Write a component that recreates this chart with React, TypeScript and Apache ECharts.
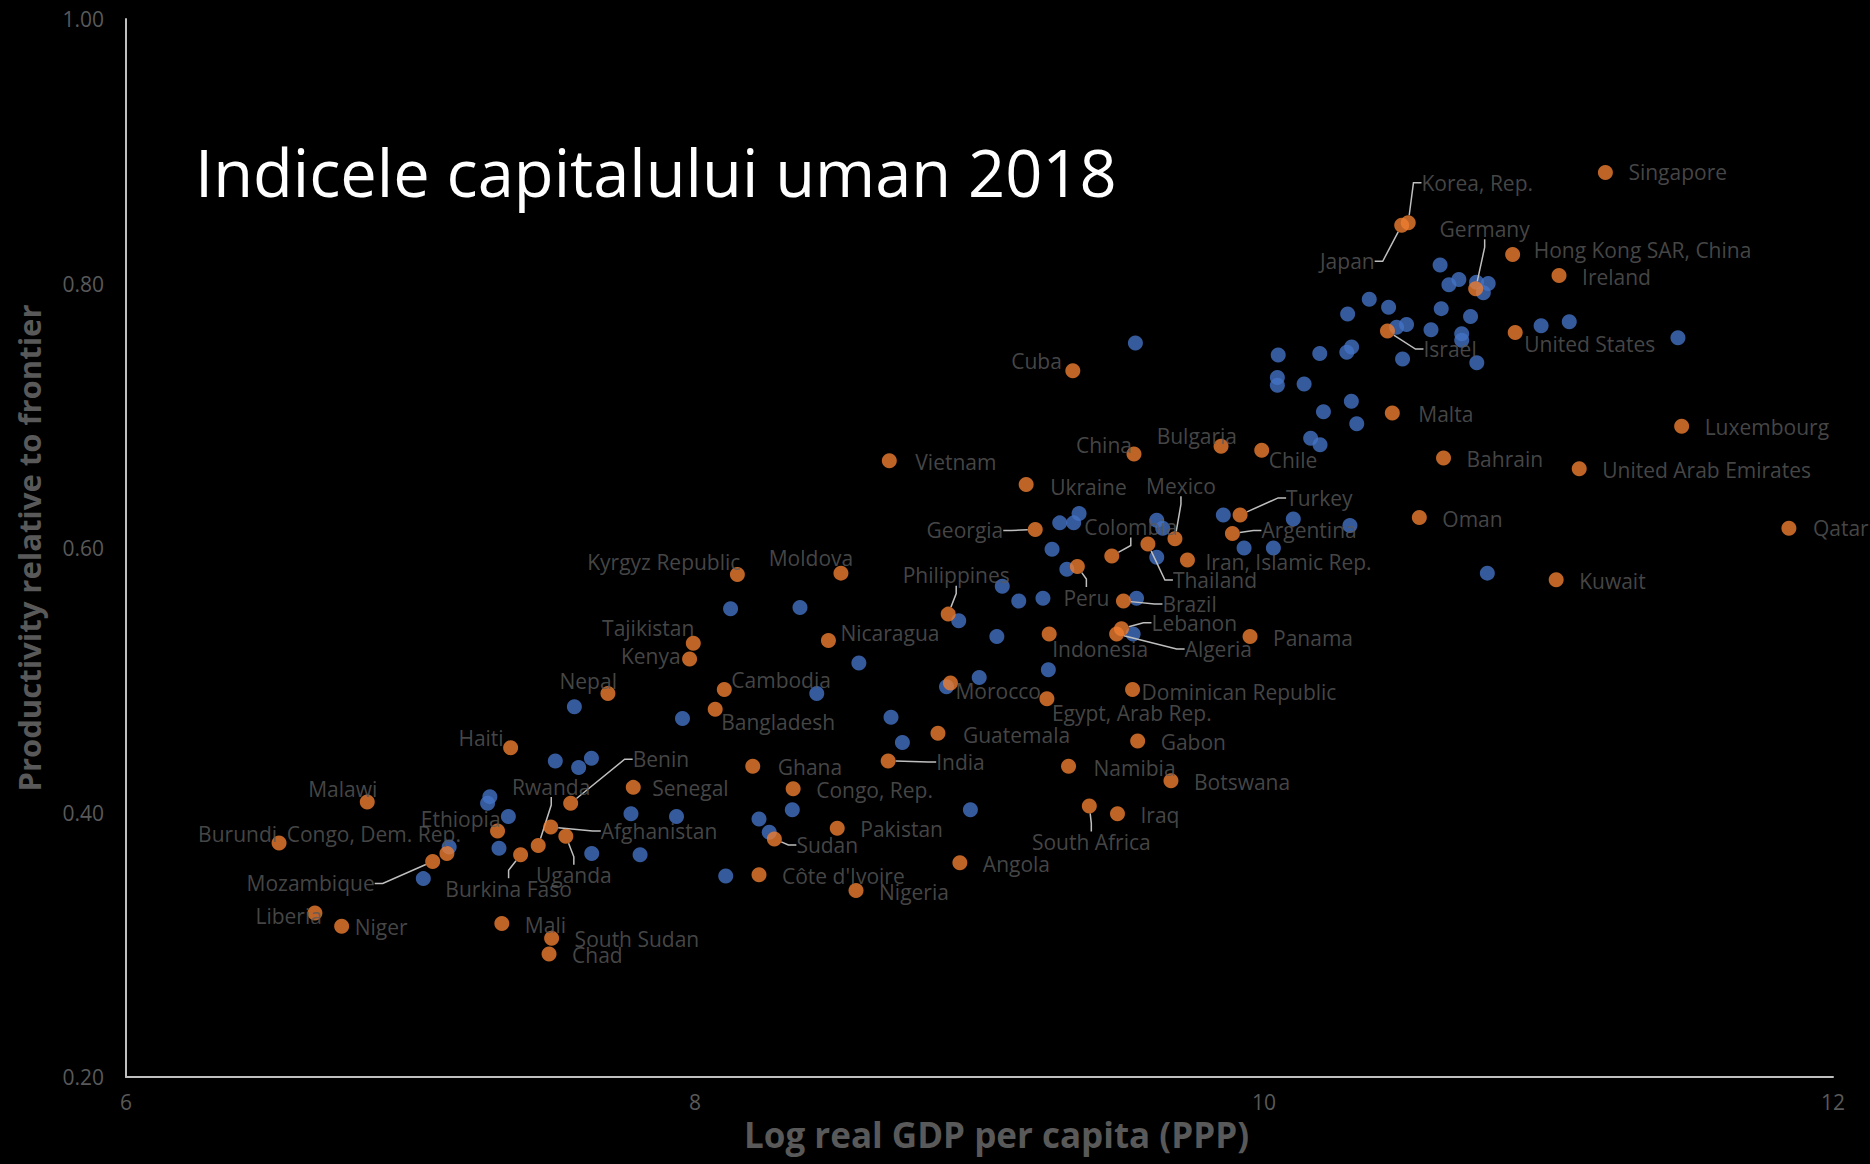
import React, { useEffect, useRef } from 'react';
import * as echarts from 'echarts';

const titleText = 'Indicele capitalului uman 2018';
const xAxisName = 'Log real GDP per capita (PPP)';
const yAxisName = 'Productivity relative to frontier';

const xTicks = [6, 8, 10, 12];
const yTicks = [0.2, 0.4, 0.6, 0.8, 1.0];

const labeledNames = [
  'Singapore', 'Korea, Rep.', 'Japan', 'Hong Kong SAR, China', 'Ireland', 'Germany', 'Israel',
  'United States', 'Malta', 'Luxembourg', 'Bahrain', 'United Arab Emirates', 'Oman', 'Qatar',
  'Kuwait', 'Cuba', 'China', 'Bulgaria', 'Chile', 'Vietnam', 'Ukraine', 'Georgia', 'Colombia',
  'Thailand', 'Mexico', 'Turkey', 'Argentina', 'Iran, Islamic Rep.', 'Peru', 'Moldova',
  'Kyrgyz Republic', 'Philippines', 'Brazil', 'Nicaragua', 'Indonesia', 'Lebanon', 'Algeria',
  'Panama', 'Tajikistan', 'Kenya', 'Morocco', 'Dominican Republic', 'Egypt, Arab Rep.', 'Nepal',
  'Cambodia', 'Bangladesh', 'Guatemala', 'Gabon', 'Haiti', 'India', 'Ghana', 'Namibia',
  'Botswana', 'Senegal', 'Congo, Rep.', 'Malawi', 'Benin', 'South Africa', 'Iraq', 'Afghanistan',
  'Pakistan', 'Ethiopia', 'Uganda', 'Sudan', 'Burundi', 'Rwanda', 'Congo, Dem. Rep.',
  'Burkina Faso', 'Mozambique', 'Angola', "Côte d'Ivoire", 'Nigeria', 'Liberia', 'Mali', 'Niger',
  'South Sudan', 'Chad',
];
const labeledX = [
  11.2, 10.507, 10.484, 10.874, 11.037, 10.744, 10.434,
  10.883, 10.451, 11.468, 10.631, 11.108, 10.546, 11.845,
  11.027, 9.328, 9.543, 9.849, 9.992, 8.683, 9.164, 9.196, 9.465,
  9.592, 9.687, 9.916, 9.889, 9.731, 9.344, 8.513,
  8.149, 8.89, 9.506, 8.469, 9.245, 9.499, 9.482,
  9.951, 7.994, 7.981, 8.898, 9.538, 9.237, 7.694,
  8.103, 8.071, 8.854, 9.556, 7.352, 8.679, 8.203, 9.313,
  9.673, 7.783, 8.345, 6.848, 7.563, 9.386, 9.485, 7.493,
  8.5, 7.306, 7.546, 8.279, 6.538, 7.449, 7.128,
  7.387, 7.078, 8.931, 8.225, 8.566, 6.664, 7.321, 6.758,
  7.496, 7.487,
];
const labeledY = [
  0.884, 0.846, 0.844, 0.822, 0.806, 0.796, 0.764,
  0.763, 0.702, 0.692, 0.668, 0.66, 0.623, 0.615,
  0.576, 0.734, 0.671, 0.677, 0.674, 0.666, 0.648, 0.614, 0.594,
  0.603, 0.607, 0.625, 0.611, 0.591, 0.586, 0.581,
  0.58, 0.55, 0.56, 0.53, 0.535, 0.539, 0.535,
  0.533, 0.528, 0.516, 0.498, 0.493, 0.486, 0.49,
  0.493, 0.478, 0.46, 0.454, 0.449, 0.439, 0.435, 0.435,
  0.424, 0.419, 0.418, 0.408, 0.407, 0.405, 0.399, 0.389,
  0.388, 0.386, 0.382, 0.38, 0.377, 0.375, 0.369,
  0.368, 0.363, 0.362, 0.353, 0.341, 0.324, 0.316, 0.314,
  0.305, 0.293,
];

const otherX = [
  10.619, 10.685, 10.65, 10.747, 10.788, 10.771, 10.37, 10.438, 10.294, 10.623, 10.726, 10.974,
  11.073, 11.455, 10.466, 10.501, 10.587, 10.695, 10.695, 10.196, 10.308, 10.291, 10.487, 10.748,
  10.141, 10.307, 10.209, 10.326, 10.164, 10.197, 10.302, 10.785,
  9.548, 10.05, 10.047, 10.047, 9.282, 9.331, 9.35, 9.255, 9.307, 9.623, 9.644, 9.623, 9.857,
  9.93, 10.033, 10.103,
  8.369, 8.927, 9.08, 9.138, 9.223, 9.552, 9.061, 9.54, 8.576, 9.242, 8.999, 8.884, 8.428,
  8.689, 8.729,
  8.125, 7.576, 7.956, 7.509, 7.636, 7.591,
  7.279, 7.271, 7.344, 7.311, 7.136, 7.045, 7.637, 7.807, 7.775, 7.935, 8.108, 8.225,
  8.342, 8.261, 8.968,
];
const otherY = [
  0.814, 0.803, 0.799, 0.801, 0.8, 0.793, 0.788, 0.782, 0.777, 0.781, 0.775, 0.768,
  0.771, 0.759, 0.767, 0.769, 0.765, 0.762, 0.757, 0.747, 0.752, 0.748, 0.743, 0.74,
  0.724, 0.711, 0.703, 0.694, 0.683, 0.678, 0.617, 0.581,
  0.755, 0.746, 0.729, 0.723, 0.619, 0.619, 0.626, 0.599, 0.584, 0.621, 0.615, 0.593, 0.625,
  0.6, 0.6, 0.622,
  0.555, 0.545, 0.571, 0.56, 0.562, 0.562, 0.533, 0.535, 0.513, 0.508, 0.502, 0.495, 0.49,
  0.472, 0.453,
  0.554, 0.48, 0.471, 0.439, 0.441, 0.434,
  0.412, 0.407, 0.397, 0.373, 0.374, 0.35, 0.369, 0.368, 0.399, 0.397, 0.352, 0.395,
  0.402, 0.385, 0.402,
];

// label placement: [dx, dy, align, leaderLine]
type Placement = [number, number, string, boolean];
const DEFAULT_PLACEMENT: Placement = [23, 1, 'left', false];
const labelPlacement: Record<string, Placement> = {
  'Singapore': [23, 0, 'left', false],
  'Korea, Rep.': [69, -40, 'center', true],
  'Japan': [-27, 36, 'right', true],
  'Hong Kong SAR, China': [21, -4, 'left', false],
  'Germany': [9, -60, 'center', true],
  'Israel': [36, 18, 'left', true],
  'United States': [9, 12, 'left', false],
  'Malta': [26, 1, 'left', false],
  'Qatar': [24, 0, 'left', false],
  'Cuba': [-11, -10, 'right', false],
  'China': [-2, -9, 'right', false],
  'Bulgaria': [16, -10, 'right', false],
  'Chile': [7, 10, 'left', false],
  'Vietnam': [26, 1, 'left', false],
  'Ukraine': [24, 2, 'left', false],
  'Georgia': [-32, 1, 'right', true],
  'Colombia': [19, -29, 'center', true],
  'Thailand': [25, 36, 'left', true],
  'Mexico': [6, -53, 'center', true],
  'Turkey': [46, -17, 'left', true],
  'Argentina': [29, -3, 'left', true],
  'Iran, Islamic Rep.': [18, 2, 'left', false],
  'Peru': [9, 31, 'center', true],
  'Moldova': [-30, -15, 'center', false],
  'Kyrgyz Republic': [3, -12, 'right', false],
  'Philippines': [8, -39, 'center', true],
  'Brazil': [39, 3, 'left', true],
  'Nicaragua': [12, -8, 'left', false],
  'Indonesia': [3, 15, 'left', false],
  'Lebanon': [30, -6, 'left', true],
  'Algeria': [68, 15, 'left', true],
  'Tajikistan': [1, -15, 'right', false],
  'Kenya': [-9, -3, 'right', false],
  'Morocco': [5, 8, 'left', false],
  'Dominican Republic': [9, 2, 'left', false],
  'Egypt, Arab Rep.': [5, 14, 'left', false],
  'Nepal': [9, -12, 'right', false],
  'Cambodia': [7, -10, 'left', false],
  'Bangladesh': [6, 13, 'left', false],
  'Guatemala': [25, 2, 'left', false],
  'Haiti': [-7, -10, 'right', false],
  'India': [48, 1, 'left', true],
  'Ghana': [25, 1, 'left', false],
  'Namibia': [25, 2, 'left', false],
  'Senegal': [19, 1, 'left', false],
  'Malawi': [10, -13, 'right', false],
  'Benin': [62, -44, 'left', true],
  'South Africa': [2, 36, 'center', true],
  'Afghanistan': [50, 4, 'left', true],
  'Ethiopia': [3, -12, 'right', false],
  'Uganda': [8, 39, 'center', true],
  'Sudan': [22, 6, 'left', true],
  'Burundi': [-2, -9, 'right', false],
  'Rwanda': [13, -59, 'center', true],
  'Congo, Dem. Rep.': [14, -19, 'right', false],
  'Burkina Faso': [-12, 34, 'center', true],
  'Mozambique': [-58, 22, 'right', true],
  'Liberia': [7, 3, 'right', false],
  'Niger': [13, 1, 'left', false],
};

const FONT = "'Open Sans', 'Noto Sans', sans-serif";
const GREY = '#595959';

export default function App() {
  const ref = useRef<HTMLDivElement>(null);

  useEffect(() => {
    document.body.style.margin = '0';
    document.body.style.background = '#000';
    if (!ref.current) return;
    const chart = echarts.init(ref.current, undefined, { renderer: 'svg' });

    const placementOf = (i: number): Placement => labelPlacement[labeledNames[i]] || DEFAULT_PLACEMENT;

    const option: any = {
      animation: false,
      backgroundColor: '#000000',
      title: {
        text: titleText,
        left: 190,
        top: 134,
        textStyle: { color: '#ffffff', fontSize: 65, fontWeight: 'normal', fontFamily: FONT },
      },
      grid: {
        left: 126, right: 37, top: 19, bottom: 87,
        containLabel: false,
        outerBoundsMode: 'none',
      },
      xAxis: {
        type: 'value',
        min: xTicks[0],
        max: xTicks[xTicks.length - 1],
        interval: xTicks[1] - xTicks[0],
        name: xAxisName,
        nameLocation: 'middle',
        nameGap: 35,
        nameTextStyle: {
          color: GREY, fontSize: 35, fontWeight: 'bold', fontFamily: FONT,
          padding: [0, 0, 0, 34],
        },
        axisLine: { show: true, lineStyle: { color: '#bfbfbf', width: 2 } },
        axisTick: { show: false },
        splitLine: { show: false },
        axisLabel: { color: GREY, fontSize: 21, margin: 14, fontFamily: FONT },
      },
      yAxis: {
        type: 'value',
        min: yTicks[0],
        max: yTicks[yTicks.length - 1],
        interval: 0.2,
        name: yAxisName,
        nameLocation: 'middle',
        nameGap: 82,
        nameTextStyle: { color: GREY, fontSize: 31, fontWeight: 'bold', fontFamily: FONT },
        axisLine: { show: true, lineStyle: { color: '#bfbfbf', width: 2 } },
        axisTick: { show: false },
        splitLine: { show: false },
        axisLabel: {
          color: GREY, fontSize: 21, margin: 22, fontFamily: FONT,
          formatter: (v: number) => v.toFixed(2),
        },
      },
      series: [
        {
          type: 'scatter',
          symbol: 'circle',
          symbolSize: 15,
          itemStyle: { color: '#4472C4' },
          data: otherX.map((x, i) => [x, otherY[i]]),
          z: 2,
        },
        {
          type: 'scatter',
          symbol: 'circle',
          symbolSize: 15,
          itemStyle: { color: '#ED7D31' },
          z: 3,
          label: {
            show: true,
            position: 'inside',
            formatter: '{b}',
            color: GREY,
            fontSize: 21,
            fontFamily: FONT,
          },
          labelLine: {
            show: false,
            length2: 8,
            lineStyle: { color: '#bfbfbf', width: 1.5 },
          },
          labelLayout: (p: any) => {
            const pl = placementOf(p.dataIndex);
            const cx = p.rect.x + p.rect.width / 2;
            const cy = p.rect.y + p.rect.height / 2;
            return { x: cx + pl[0], y: cy + pl[1], align: pl[2], verticalAlign: 'middle' };
          },
          data: labeledNames.map((n, i) => ({
            name: n,
            value: [labeledX[i], labeledY[i]],
            labelLine: { show: placementOf(i)[3] },
          })),
        },
      ],
    };
    chart.setOption(option);
    return () => chart.dispose();
  }, []);

  return <div ref={ref} style={{ width: 1870, height: 1164, background: '#000' }} />;
}
